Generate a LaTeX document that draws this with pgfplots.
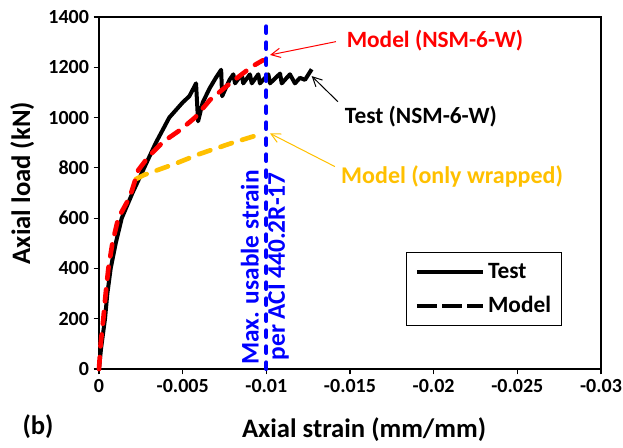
\documentclass[border=0pt]{standalone}
\usepackage{pgfplots}
\pgfplotsset{compat=1.18}
\usepackage{fontspec}
\setmainfont{Carlito}
\usetikzlibrary{arrows.meta}
\definecolor{xred}{RGB}{255,0,0}
\definecolor{xgold}{RGB}{255,192,0}
\definecolor{xblue}{RGB}{0,0,255}
\begin{document}
\begin{tikzpicture}
\useasboundingbox (-74.25pt,-59.25pt) rectangle (393pt,276.75pt);
\begin{axis}[
 scale only axis, width=376.5pt, height=264pt,
 xmin=-0.03, xmax=0, ymin=0, ymax=1400,
 x dir=reverse,
 scaled x ticks=false, scaled y ticks=false,
 xtick={0,-0.005,-0.01,-0.015,-0.02,-0.025,-0.03},
 xticklabels={0,-0.005,-0.01,-0.015,-0.02,-0.025,-0.03},
 ytick={0,200,400,600,800,1000,1200,1400},
 yticklabels={0,200,400,600,800,1000,1200,1400},
 tick align=outside, tick pos=left, major tick length=4pt,
 axis line style={line width=1pt},
 every tick/.style={black,line width=0.8pt},
 ticklabel style={font=\fontsize{15}{18}\selectfont\bfseries},
 clip=false,
 xlabel={Axial strain (mm/mm)},
 xlabel style={font=\fontsize{20}{24}\selectfont\bfseries, at={(axis description cs:0.528,-0.173)}, anchor=center},
 ylabel={Axial load (kN)},
 ylabel style={font=\fontsize{20}{24}\selectfont\bfseries, at={(axis description cs:-0.153,0.528)}, anchor=center},
 legend style={at={(axis description cs:0.612,0.332)}, anchor=north west, draw=black, line width=0.8pt,
   font=\fontsize{17.5}{21}\selectfont\bfseries, inner xsep=6pt, inner ysep=6pt, row sep=8pt, cells={anchor=west}},
 legend image code/.code={\draw[#1] (0pt,0pt) -- (50pt,0pt);},
]
\addlegendimage{black, line width=2.5pt}
\addlegendentry{Test}
\addlegendimage{black, line width=3pt, dash pattern=on 15pt off 4pt}
\addlegendentry{Model\hspace{12pt}}

\addplot[black, line width=3pt, line join=round, forget plot] coordinates {
(0,0) (-0.00012,80) (-0.00036,200) (-0.0005,300) (-0.0007,400) (-0.001,500) (-0.00136,600)
(-0.002,700) (-0.0027,800) (-0.0034,900) (-0.0042,1000) (-0.005,1060) (-0.0054,1085)
(-0.0058,1136) (-0.00592,985) (-0.0062,1060) (-0.0066,1115) (-0.007,1160) (-0.0073,1190)
(-0.00736,1085) (-0.0078,1150) (-0.00803,1172) (-0.00813,1136) (-0.00853,1172) (-0.00862,1136)
(-0.00902,1172) (-0.00913,1136) (-0.00952,1172) (-0.00962,1136) (-0.01012,1172) (-0.01022,1136)
(-0.01082,1175) (-0.01092,1136) (-0.01141,1172) (-0.01171,1136) (-0.01201,1158) (-0.01231,1150)
(-0.01271,1192)
};
\addplot[xgold, line width=3.5pt, line cap=round, dash pattern=on 9pt off 8pt, forget plot] coordinates {
(-0.0022,755) (-0.0027,772) (-0.0045,815) (-0.0060,855) (-0.0080,900) (-0.0098,937)
};
\addplot[xred, line width=3.5pt, line cap=round, dash pattern=on 9pt off 8pt, forget plot] coordinates {
(0,0) (-0.0001,100) (-0.00026,200) (-0.0004,300) (-0.00056,400) (-0.0008,500) (-0.00115,600)
(-0.00185,685) (-0.00235,791) (-0.00295,844) (-0.00384,904) (-0.00484,950) (-0.00574,1000)
(-0.00663,1070) (-0.00783,1136) (-0.00912,1202) (-0.0098,1228)
};
\addplot[xblue, line width=3pt, line cap=round, dash pattern=on 5pt off 7pt, forget plot] coordinates {
(-0.01,0) (-0.01,1400)
};

\node[xblue, rotate=90, font=\fontsize{19}{23}\selectfont\bfseries] at (axis cs:-0.00902,404) {Max. usable strain};
\node[xblue, rotate=90, font=\fontsize{19}{23}\selectfont\bfseries] at (axis cs:-0.01073,408) {per ACI 440.2R-17};

\node[xred, font=\fontsize{17.5}{21}\selectfont\bfseries] at (axis cs:-0.02008,1308) {Model (NSM-6-W)};
\node[black, font=\fontsize{17.5}{21}\selectfont\bfseries] at (axis cs:-0.01924,1002) {Test (NSM-6-W)};
\node[xgold, font=\fontsize{18}{21}\selectfont\bfseries] at (axis cs:-0.0211,764) {Model (only wrapped)};

\draw[xred, line width=0.75pt, -{Straight Barb[length=7pt,width=7pt]}] (axis cs:-0.01416,1302) -- (axis cs:-0.01022,1249);
\draw[black, line width=0.75pt, -{Straight Barb[length=7pt,width=7pt]}] (axis cs:-0.01428,1063) -- (axis cs:-0.01271,1165);
\draw[xgold, line width=0.75pt, -{Straight Barb[length=7pt,width=7pt]}] (axis cs:-0.0141,805) -- (axis cs:-0.01022,937);

\node[font=\fontsize{20}{24}\selectfont\bfseries] at (axis description cs:-0.1215,-0.165) {(b)};
\end{axis}
\end{tikzpicture}
\end{document}
